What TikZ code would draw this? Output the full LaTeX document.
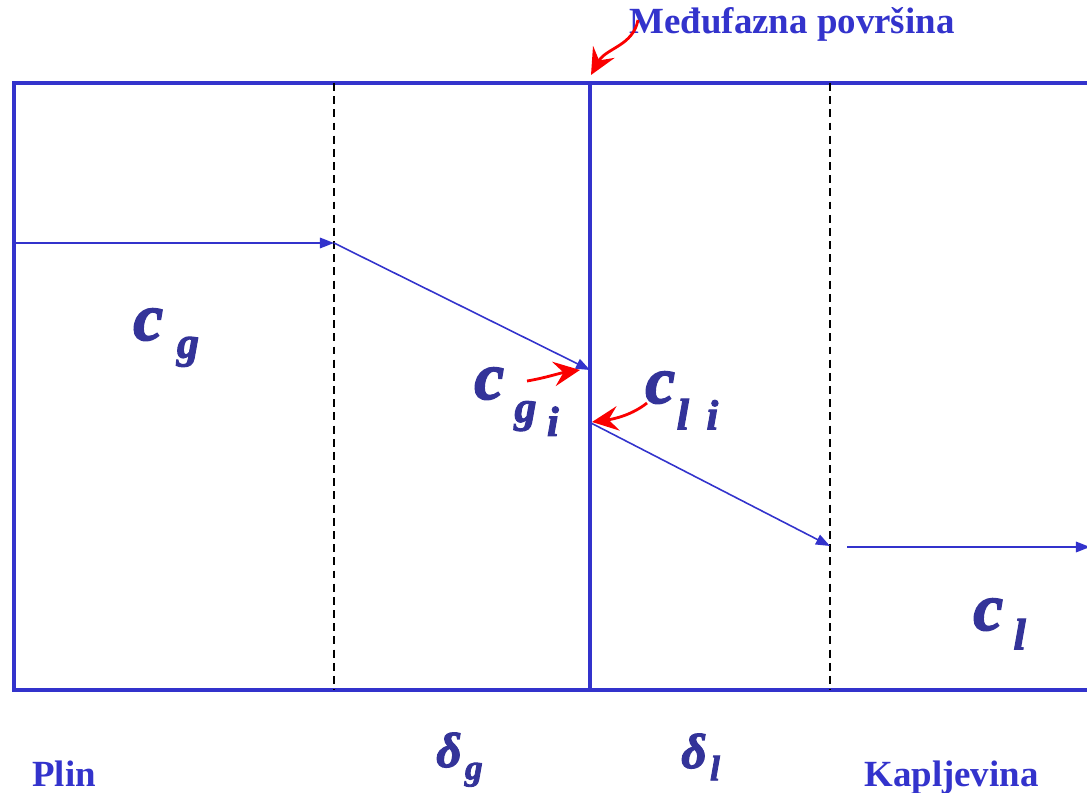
\documentclass[tikz,border=0pt]{standalone}
\usepackage{fontspec}
\setmainfont{Liberation Serif}
\newfontfamily\symbserif[BoldItalicFeatures={FakeBold=2.5},BoldFeatures={FakeBold=1.5}]{Liberation Serif}
\usepackage{tikz}
\usetikzlibrary{arrows.meta,positioning,calc}
\definecolor{phaseBlue}{RGB}{51,51,204}
\definecolor{labelBlue}{RGB}{51,51,153}
\definecolor{pointRed}{RGB}{250,0,0}
\newcommand{\bigc}{{\fontsize{38}{38}\selectfont\symbserif\bfseries\itshape c}}
\newcommand{\lowx}[3]{\raisebox{-#1}{\fontsize{#2}{#2}\selectfont\symbserif\bfseries\itshape #3}}
\newcommand{\deltax}{{\fontsize{28}{28}\selectfont\symbserif\bfseries\itshape δ}}

\begin{document}
\begin{tikzpicture}[x=0.02cm,y=-0.02cm,
  wall/.style={draw=phaseBlue,line width=2.4pt},
  film/.style={draw=black,line width=1pt,dash pattern=on 4.5pt off 3pt},
  arr/.style={phaseBlue,line width=0.9pt,-{Triangle[length=8pt,width=6pt]}},
  redarr/.style={pointRed,line width=1.6pt,-{Stealth[length=15pt,width=14pt,inset=5.5pt]}},
  conc/.style={text=labelBlue,inner sep=0pt,anchor=base west},
  phase/.style={text=phaseBlue,font=\fontsize{21}{21}\selectfont\bfseries,inner sep=0pt}
]
  \useasboundingbox (0,0) rectangle (1087,793);
  \clip (0,0) rectangle (1087,793);

  % phases and films
  \draw[wall] (1095,83) -- (14,83) -- (14,690) -- (1095,690);
  \draw[wall] (590,83) -- (590,690);
  \draw[film] (334,83) -- (334,690);
  \draw[film] (830,83) -- (830,690);

  % concentration profile
  \coordinate (g0) at (14,243);
  \coordinate (g1) at (334,243);
  \coordinate (gi) at (590,370);
  \coordinate (li) at (591,423);
  \coordinate (l1) at (830,546);
  \coordinate (l2) at (847,547);
  \coordinate (l3) at (1090,547);
  \draw[arr] (g0) -- (g1);
  \draw[arr] (g1) -- (gi);
  \draw[arr] (li) -- (l1);
  \draw[arr] (l2) -- (l3);

  % labels
  \node[phase,anchor=base] (title) at (792,34) {Međufazna površina};
  \node[conc] (cg)  at (133,340) {\bigc\hspace{8pt}\lowx{10pt}{25}{g}};
  \node[conc] (cgi) at (474,399) {\bigc\hspace{6pt}\lowx{13pt}{25}{g}\hspace{6pt}\lowx{21pt}{24}{i}};
  \node[conc] (cli) at (645,403) {\bigc\hspace{1pt}\lowx{15pt}{25}{l}\hspace{10pt}\lowx{15pt}{24}{i}};
  \node[conc] (cl)  at (973,630) {\bigc\hspace{6pt}\lowx{11pt}{25}{l}};
  \node[conc] (dg)  at (436,767) {\deltax\hspace{2pt}\lowx{7pt}{20}{g}};
  \node[conc] (dl)  at (681,768) {\deltax\hspace{2pt}\lowx{7pt}{20}{l}};
  \node[phase,anchor=base west] (gas) at (32,786) {Plin};
  \node[phase,anchor=base west] (liq) at (864,786) {Kapljevina};

  % pointers
  \draw[redarr] (638,20) .. controls (633,46) and (606,48) .. (591,75);
  \draw[redarr] (527,381) .. controls (545,378) and (560,373) .. (580,370);
  \draw[redarr] (647,403) .. controls (632,415) and (614,419) .. (592,422);
\end{tikzpicture}
\end{document}
